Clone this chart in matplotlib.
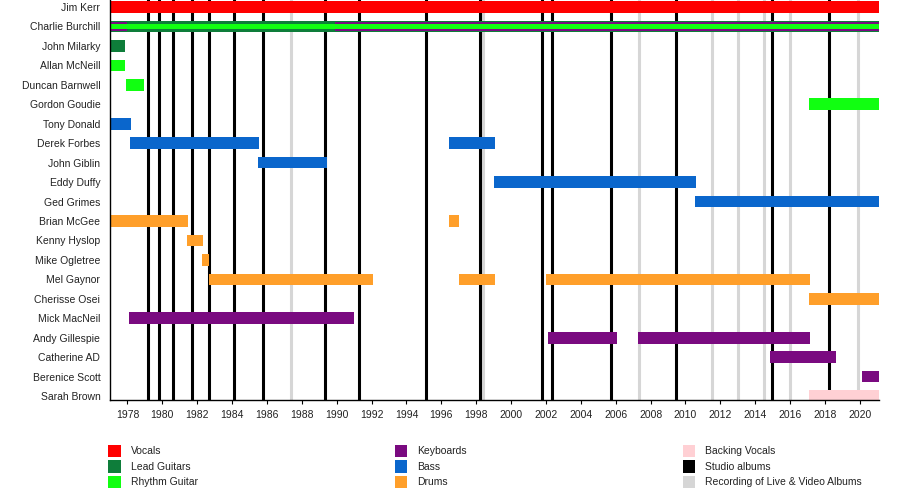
import matplotlib
matplotlib.use('Agg')
import matplotlib.pyplot as plt
from matplotlib.patches import Rectangle

plt.rcParams['font.family'] = ['Liberation Sans', 'DejaVu Sans']

members = ['Jim Kerr', 'Charlie Burchill', 'John Milarky', 'Allan McNeill', 'Duncan Barnwell',
           'Gordon Goudie', 'Tony Donald', 'Derek Forbes', 'John Giblin', 'Eddy Duffy',
           'Ged Grimes', 'Brian McGee', 'Kenny Hyslop', 'Mike Ogletree', 'Mel Gaynor',
           'Cherisse Osei', 'Mick MacNeil', 'Andy Gillespie', 'Catherine AD', 'Berenice Scott',
           'Sarah Brown']
START = 1977.0
END = 2021.1

vocals = [('Jim Kerr', 1977.0, END)]
lead_guitars = [('Charlie Burchill', 1977.0, END), ('John Milarky', 1977.0, 1977.88)]
rhythm_guitar = [('Allan McNeill', 1977.0, 1977.88), ('Duncan Barnwell', 1977.92, 1978.97),
                 ('Gordon Goudie', 2017.1, END)]
keyboards = [('Mick MacNeil', 1978.11, 1990.97), ('Andy Gillespie', 2002.13, 2006.08),
             ('Andy Gillespie', 2007.3, 2017.15), ('Catherine AD', 2014.87, 2018.66),
             ('Berenice Scott', 2020.15, END)]
bass = [('Tony Donald', 1977.0, 1978.22), ('Derek Forbes', 1978.17, 1985.52),
        ('Derek Forbes', 1996.43, 1999.07), ('John Giblin', 1985.46, 1989.44),
        ('Eddy Duffy', 1999.01, 2010.61), ('Ged Grimes', 2010.55, END)]
drums = [('Brian McGee', 1977.0, 1981.5), ('Brian McGee', 1996.43, 1997.0),
         ('Kenny Hyslop', 1981.44, 1982.36), ('Mike Ogletree', 1982.3, 1982.65),
         ('Mel Gaynor', 1982.65, 1992.07), ('Mel Gaynor', 1997.0, 1999.07),
         ('Mel Gaynor', 2002.0, 2017.15), ('Cherisse Osei', 2017.1, END)]
backing_vocals = [('Sarah Brown', 2017.1, END)]
# secondary (thin) roles drawn inside a main bar
keyboards_thin = [('Charlie Burchill', 1977.0, 1977.98), ('Charlie Burchill', 1989.92, END)]
rhythm_thin = [('Charlie Burchill', 1977.0, END)]

studio_albums = [1979.16, 1979.79, 1980.64, 1981.69, 1982.65, 1984.1, 1985.77, 1989.35,
                 1991.28, 1995.13, 1998.2, 2001.79, 2002.33, 2005.75, 2009.47, 2014.97, 2018.22]
live_albums = [1987.36, 1998.37, 2007.36, 2011.55, 2013.01, 2014.48, 2015.98, 2019.88]

xticks = list(range(1978, 2021, 2))

colors = {
    'Vocals': '#ff0000',
    'Lead Guitars': '#0e7d3a',
    'Rhythm Guitar': '#11ff11',
    'Keyboards': '#7a0a80',
    'Bass': '#0a66cc',
    'Drums': '#ff9f2a',
    'Backing Vocals': '#ffd0d4',
    'Studio albums': '#000000',
    'Recording of Live & Video Albums': '#d6d6d6',
}

fig = plt.figure(figsize=(9, 5), dpi=100)
ax = fig.add_axes([110 / 900, 0.2, (879 - 110) / 900, 0.8])

for x in live_albums:
    ax.axvline(x, color=colors['Recording of Live & Video Albums'], lw=2.2, zorder=1)
for x in studio_albums:
    ax.axvline(x, color=colors['Studio albums'], lw=2.2, zorder=2)

idx = {m: i for i, m in enumerate(members)}
H = 0.6

def draw(periods, color, h=H, z=3):
    for m, s, e in periods:
        ax.barh(idx[m], e - s, left=s, height=h, color=color, lw=0, zorder=z)

draw(vocals, colors['Vocals'])
draw(lead_guitars, colors['Lead Guitars'])
draw(rhythm_guitar, colors['Rhythm Guitar'])
draw(keyboards, colors['Keyboards'])
draw(bass, colors['Bass'])
draw(drums, colors['Drums'])
draw(backing_vocals, colors['Backing Vocals'])
draw(keyboards_thin, colors['Keyboards'], h=0.42, z=4)
draw(rhythm_thin, colors['Rhythm Guitar'], h=0.25, z=5)

ax.set_xlim(START, END)
ax.set_ylim(len(members) - 1 + 0.2, -0.36)
ax.set_yticks(range(len(members)))
ax.set_yticklabels(members, fontsize=7.5, color='#222222')
ax.tick_params(axis='y', length=0, pad=7)
ax.set_xticks(xticks)
ax.set_xticklabels([str(t) for t in xticks], fontsize=7.5, color='#222222')
ax.tick_params(axis='x', length=3, width=0.8, pad=4.5)
for sp in ['top', 'right']:
    ax.spines[sp].set_visible(False)
for sp in ['left', 'bottom']:
    ax.spines[sp].set_linewidth(1.0)
    ax.spines[sp].set_zorder(6)

legend_items = [
    ['Vocals', 'Lead Guitars', 'Rhythm Guitar'],
    ['Keyboards', 'Bass', 'Drums'],
    ['Backing Vocals', 'Studio albums', 'Recording of Live & Video Albums'],
]
col_x = [108.3, 394.5, 682.5]
row_y = [451, 466.5, 482]
sq = 12.7
for ci, col in enumerate(legend_items):
    for ri, name in enumerate(col):
        x0 = col_x[ci]
        yc = row_y[ri]
        fig.add_artist(Rectangle((x0 / 900, 1 - (yc + sq / 2) / 500), sq / 900, sq / 500,
                                 transform=fig.transFigure, color=colors[name], lw=0))
        fig.text((x0 + 22.4) / 900, 1 - yc / 500, name, fontsize=7.5, va='center',
                 ha='left', color='#222222')

fig.savefig('out.png', dpi=100)
